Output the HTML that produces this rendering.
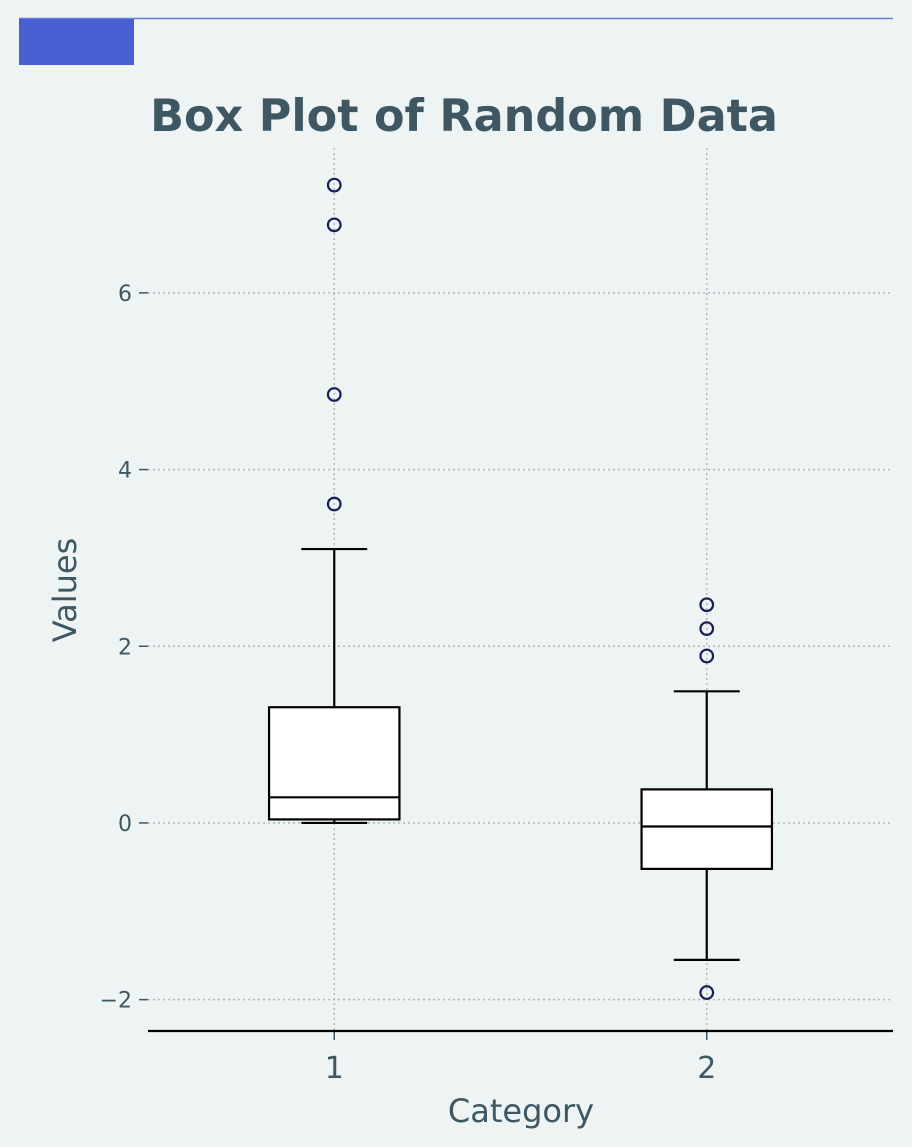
<!DOCTYPE html>
<html><head><meta charset="utf-8"><style>
html,body{margin:0;padding:0;background:#eef4f4;}
svg{display:block;font-family:"DejaVu Sans","Liberation Sans",sans-serif;}
</style></head><body>
<svg id="chart" width="912" height="1147" viewBox="0 0 912 1147">
<rect x="0" y="0" width="912" height="1147" fill="#eef4f4"/>
<line x1="19" y1="18.5" x2="893" y2="18.5" stroke="#6a7bd8" stroke-width="1.5"/>
<rect x="19" y="19" width="115" height="46" fill="#485fd2"/>
<text x="464" y="131" text-anchor="middle" font-size="44.5" font-weight="bold" fill="#3f5762">Box Plot of Random Data</text>
<g id="grid"></g>
<g id="marks"></g>
<g id="axes"></g>
<text x="521" y="1122" text-anchor="middle" font-size="32" fill="#3f5762">Category</text>
<text transform="translate(76,590) rotate(-90)" text-anchor="middle" font-size="32" fill="#3f5762">Values</text>
</svg>
<script>
const categories = ["1", "2"];
const q1 = [0.04, -0.52];
const medians = [0.29, -0.04];
const q3 = [1.31, 0.38];
const whiskLow = [0.0, -1.55];
const whiskHigh = [3.1, 1.49];
const outliers = [[3.61, 4.85, 6.77, 7.22], [1.89, 2.2, 2.47, -1.92]];
const yTicks = [-2, 0, 2, 4, 6];
const yTickLabels = ["\u22122", "0", "2", "4", "6"];

const L = 148, R = 893, T = 148, B = 1031;
const yMin = -2.355, yMax = 7.64;
const xMin = 0.5, xMax = 2.5;
const ys = v => B - (v - yMin) / (yMax - yMin) * (B - T);
const xs = v => L + (v - xMin) / (xMax - xMin) * (R - L);
const NS = "http://www.w3.org/2000/svg";
function mk(tag, attrs, parent) {
  const e = document.createElementNS(NS, tag);
  for (const k in attrs) e.setAttribute(k, attrs[k]);
  parent.appendChild(e);
  return e;
}
const grid = document.getElementById('grid');
const marks = document.getElementById('marks');
const axes = document.getElementById('axes');

yTicks.forEach((t, i) => {
  const y = ys(t);
  const g = mk('line', {x1: L, x2: R, y1: y, y2: y, stroke: '#b4b8ba', 'stroke-width': 1.5, 'stroke-dasharray': '2,3'}, grid);
  
  
  const tk = mk('line', {x1: L - 9, x2: L, y1: y, y2: y, stroke: '#3f5762', 'stroke-width': 1.5}, axes);
  
  
  const tx = mk('text', {x: L - 16, y: y + 8, 'text-anchor': 'end', 'font-size': 22, fill: '#3f5762'}, axes);
  tx.textContent = yTickLabels[i];
  
  
});
categories.forEach((c, i) => {
  const x = xs(i + 1);
  const g = mk('line', {x1: x, x2: x, y1: T, y2: B, stroke: '#b4b8ba', 'stroke-width': 1.5, 'stroke-dasharray': '2,3'}, grid);
  
  
  const tk = mk('line', {x1: x, x2: x, y1: B, y2: B + 9, stroke: '#3f5762', 'stroke-width': 1.5}, axes);
  
  
  const tx = mk('text', {x: x, y: B + 47, 'text-anchor': 'middle', 'font-size': 30, fill: '#3f5762'}, axes);
  tx.textContent = c;
  
  

  const bw = 0.35 * (xs(1) - xs(0)), cw = 0.0885 * (xs(1) - xs(0));
  const st = {stroke: '#000', 'stroke-width': 2.2, fill: 'none'};
  const w1 = mk('line', Object.assign({x1: x, x2: x, y1: ys(q3[i]), y2: ys(whiskHigh[i])}, st), marks);
  
  
  const w2 = mk('line', Object.assign({x1: x, x2: x, y1: ys(q1[i]), y2: ys(whiskLow[i])}, st), marks);
  
  
  const c1 = mk('line', Object.assign({x1: x - cw, x2: x + cw, y1: ys(whiskHigh[i]), y2: ys(whiskHigh[i])}, st), marks);
  
  
  const c2 = mk('line', Object.assign({x1: x - cw, x2: x + cw, y1: ys(whiskLow[i]), y2: ys(whiskLow[i])}, st), marks);
  
  
  const box = mk('rect', {x: x - bw / 2, y: ys(q3[i]), width: bw, height: ys(q1[i]) - ys(q3[i]), fill: '#fff', stroke: '#000', 'stroke-width': 2.2}, marks);
  
  
  const md = mk('line', Object.assign({x1: x - bw / 2, x2: x + bw / 2, y1: ys(medians[i]), y2: ys(medians[i])}, st), marks);
  
  
  outliers[i].forEach(v => {
    const o = mk('circle', {cx: x, cy: ys(v), r: 6.3, fill: 'none', stroke: '#1a1f5a', 'stroke-width': 2.2}, marks);
    
    
  });
});
const ax = mk('line', {x1: L, x2: R, y1: B, y2: B, stroke: '#000', 'stroke-width': 2.2}, axes);


</script>
</body></html>
